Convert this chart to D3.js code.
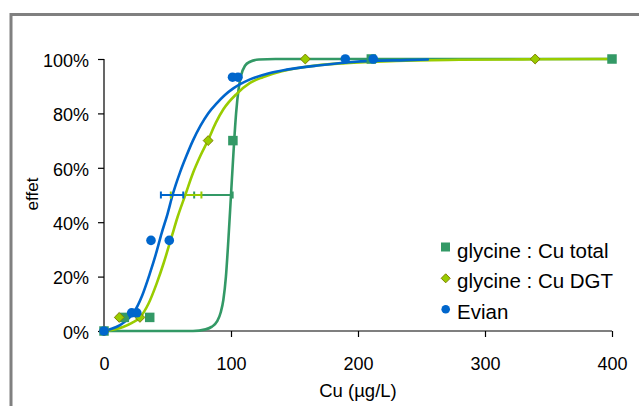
<!DOCTYPE html>
<html><head><meta charset="utf-8">
<script src="https://cdn.jsdelivr.net/npm/d3@7/dist/d3.min.js"></script>
<style>
html,body{margin:0;padding:0;background:#fff;}
svg{display:block;font-family:Arial,"Liberation Sans",sans-serif;}
</style></head>
<body>
<svg id="c" width="639" height="406"></svg>
<script>
// ---- data ----
const xTicks = [0, 100, 200, 300, 400];
const yTicks = [0, 0.2, 0.4, 0.6, 0.8, 1.0];

const seriesNames = ["glycine : Cu total", "glycine : Cu DGT", "Evian"];

// measured points
const totalX = [0, 16, 36, 101.5, 210.5, 400];
const totalY = [0, 0.05, 0.05, 0.70, 1.0, 1.0];
const dgtX = [0, 12, 28.3, 82, 158.5, 339.5];
const dgtY = [0, 0.05, 0.05, 0.70, 1.0, 1.0];
const evianX = [0, 21.8, 25.8, 37, 51.4, 101.2, 105.5, 190, 212];
const evianY = [0, 0.067, 0.067, 0.333, 0.333, 0.933, 0.933, 1.0, 1.0];

// fitted curves
const fitTotalX = [0, 70, 80, 85, 89, 92, 94, 96, 98, 100, 102, 104, 106, 108, 111, 115, 122, 135, 400];
const fitTotalY = [0, 0, 0.006, 0.016, 0.035, 0.07, 0.115, 0.2, 0.34, 0.5, 0.66, 0.8, 0.89, 0.94, 0.975, 0.99, 0.998, 1, 1];
const fitDgtX = [0, 7, 15, 22, 28.3, 35, 41.5, 47, 53.3, 58, 64, 70, 76, 82, 88, 94, 104.5, 115, 125, 140, 160, 190, 230, 280, 340, 400];
const fitDgtY = [0, 0.005, 0.015, 0.03, 0.05, 0.1, 0.175, 0.25, 0.347, 0.42, 0.5, 0.58, 0.645, 0.702, 0.765, 0.815, 0.872, 0.912, 0.933, 0.955, 0.972, 0.985, 0.993, 0.997, 0.999, 1];
const fitEvianX = [0, 6, 12.6, 18, 23, 30, 36, 41, 45.4, 50, 54, 60, 65, 70, 76, 82, 88.7, 95, 101.8, 115, 130, 143.8, 170, 196, 238, 255];
const fitEvianY = [0, 0.008, 0.022, 0.04, 0.065, 0.13, 0.21, 0.285, 0.36, 0.43, 0.5, 0.585, 0.645, 0.7, 0.755, 0.8, 0.837, 0.867, 0.892, 0.925, 0.948, 0.961, 0.977, 0.989, 0.996, 0.998];

// EC50 error bars (x range at 50 %)
const errLevel = 0.5;
const errTotal = [71, 101.3];
const errDgt = [52.6, 76.7];
const errEvian = [44.8, 62.4];

// ---- styles ----
const cTotal = "#339966", cDgt = "#99CC00", cEvian = "#0066CC";

const svg = d3.select("#c");
// outer frame
svg.append("path").attr("d", "M11,410 L11,14.5 L645,14.5")
  .attr("fill", "none").attr("stroke", "#808080").attr("stroke-width", 3);

const x = d3.scaleLinear().domain([0, 400]).range([104, 612]);
const y = d3.scaleLinear().domain([0, 1]).range([331, 59]);

// axes
const gx = svg.append("g").attr("transform", `translate(0,${y(0)})`)
  .call(d3.axisBottom(x).tickValues(xTicks).tickSize(6).tickPadding(0).tickFormat(d3.format("d")));
gx.select(".domain").attr("stroke", "#000").attr("stroke-width", 1.2).attr("d", `M${x(0)},0H${x(400)}`);
gx.selectAll(".tick line").attr("stroke", "#000").attr("stroke-width", 1.2);
gx.selectAll(".tick text").attr("font-size", 18).attr("fill", "#000").attr("dy", null).attr("y", 39);
gx.selectAll(".tick").filter(d => d === 0).select("line").remove();

const gy = svg.append("g").attr("transform", `translate(${x(0)},0)`)
  .call(d3.axisLeft(y).tickValues(yTicks).tickSize(6).tickPadding(9).tickFormat(d3.format(".0%")));
gy.select(".domain").attr("stroke", "#000").attr("stroke-width", 1.2).attr("d", `M0,${y(0)}V${y(1)}`);
gy.selectAll(".tick line").attr("stroke", "#000").attr("stroke-width", 1.2);
gy.selectAll(".tick text").attr("font-size", 18).attr("fill", "#000").attr("dy", "0.4em");

// axis titles
svg.append("text").attr("x", x(200)).attr("y", 397).attr("text-anchor", "middle")
  .attr("font-size", 18.5).attr("fill", "#000").text("Cu (µg/L)");
svg.append("text").attr("transform", "translate(38,194) rotate(-90)").attr("text-anchor", "middle")
  .attr("font-size", 17).attr("fill", "#000").text("effet");

// fitted lines
const line = d3.line().x(d => x(d[0])).y(d => y(d[1])).curve(d3.curveMonotoneX);
const fits = [
  [d3.zip(fitTotalX, fitTotalY), cTotal],
  [d3.zip(fitDgtX, fitDgtY), cDgt],
  [d3.zip(fitEvianX, fitEvianY), cEvian]
];
fits.forEach(([pts, col]) => {
  svg.append("path").datum(pts).attr("d", line).attr("fill", "none")
    .attr("stroke", col).attr("stroke-width", 2.6).attr("stroke-linecap", "round");
});

// error bars
[[errTotal, cTotal], [errDgt, cDgt], [errEvian, cEvian]].forEach(([r, col]) => {
  const g = svg.append("g").attr("stroke", col).attr("stroke-width", 2);
  g.append("line").attr("x1", x(r[0])).attr("x2", x(r[1])).attr("y1", y(errLevel)).attr("y2", y(errLevel));
  r.forEach(v => g.append("line").attr("x1", x(v)).attr("x2", x(v))
    .attr("y1", y(errLevel) - 3.5).attr("y2", y(errLevel) + 3.5));
});

// markers
const sq = 9.5;
svg.append("g").selectAll("rect").data(d3.zip(totalX, totalY)).join("rect")
  .attr("x", d => x(d[0]) - sq / 2).attr("y", d => y(d[1]) - sq / 2)
  .attr("width", sq).attr("height", sq).attr("fill", cTotal);
const diamond = d3.symbol().type(d3.symbolDiamond2).size(62);
svg.append("g").selectAll("path").data(d3.zip(dgtX, dgtY)).join("path")
  .attr("d", diamond).attr("transform", d => `translate(${x(d[0])},${y(d[1])})`)
  .attr("fill", cDgt).attr("stroke", "#808000").attr("stroke-width", 1);
svg.append("g").selectAll("circle").data(d3.zip(evianX, evianY)).join("circle")
  .attr("cx", d => x(d[0])).attr("cy", d => y(d[1])).attr("r", 4.8).attr("fill", cEvian);

// legend
const lg = svg.append("g");
const rowsBase = [257.7, 287.9, 318.7];
lg.append("rect").attr("x", 441).attr("y", 242.5).attr("width", 9).attr("height", 9).attr("fill", cTotal);
lg.append("path").attr("d", d3.symbol().type(d3.symbolDiamond2).size(52))
  .attr("transform", "translate(445.7,278.3)").attr("fill", cDgt).attr("stroke", "#808000").attr("stroke-width", 1);
lg.append("circle").attr("cx", 445.7).attr("cy", 309.3).attr("r", 4.3).attr("fill", cEvian);
seriesNames.forEach((n, i) => {
  lg.append("text").attr("x", 457).attr("y", rowsBase[i]).attr("font-size", 20.5)
    .attr("fill", "#000").text(n);
});
</script>
</body></html>
